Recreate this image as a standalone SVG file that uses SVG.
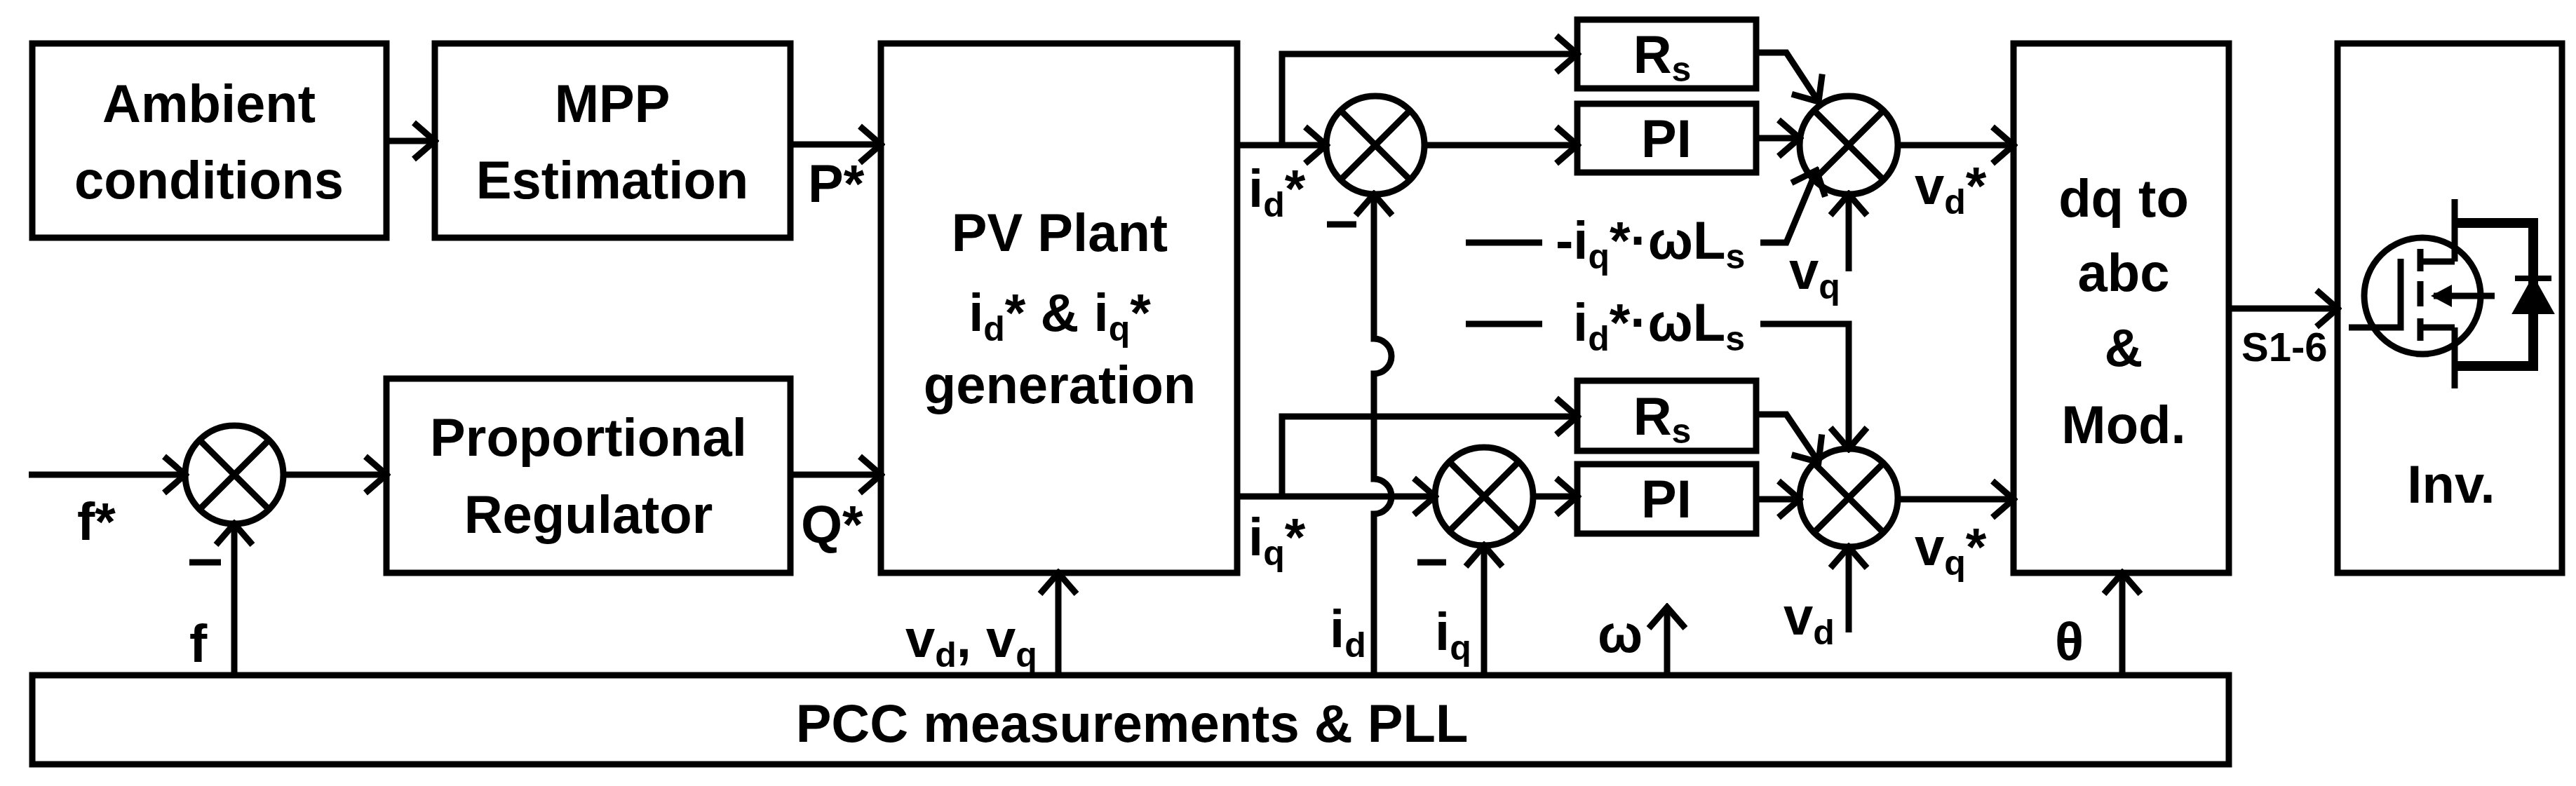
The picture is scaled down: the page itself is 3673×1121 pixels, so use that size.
<svg xmlns="http://www.w3.org/2000/svg" width="3673" height="1121" viewBox="0 0 3673 1121">
<style>
.b{fill:none;stroke:#000;stroke-width:9}
.l{fill:none;stroke:#000;stroke-width:9;marker-end:url(#a)}
text{font-family:"Liberation Sans",Arial,sans-serif;font-weight:bold;font-size:76px;fill:#000}
.c{text-anchor:middle}
.s{font-size:50px}
</style>
<defs>
<marker id="a" markerUnits="userSpaceOnUse" markerWidth="40" markerHeight="60" refX="34" refY="30" orient="auto" viewBox="0 0 40 60">
<path d="M4,4 L34,30 L4,56" fill="none" stroke="#000" stroke-width="9"/>
</marker>
</defs>
<rect width="3673" height="1121" fill="#fff"/>
<g id="ambient"><rect class="b" x="46" y="62" width="505" height="277"/><text class="c" x="298" y="174">Ambient</text><text class="c" x="298" y="283">conditions</text></g>
<g id="mpp"><rect class="b" x="620" y="62" width="507" height="277"/><text class="c" x="873" y="174">MPP</text><text class="c" x="873" y="283">Estimation</text></g>
<g id="prop"><rect class="b" x="551" y="540" width="576" height="277"/><text class="c" x="839" y="650">Proportional</text><text class="c" x="839" y="760">Regulator</text></g>
<g id="pv"><rect class="b" x="1256" y="62" width="508" height="755"/><text class="c" x="1511" y="358">PV Plant</text><text class="c" x="1511" y="472">i<tspan class="s" dy="14">d</tspan><tspan dy="-14">* &amp; i</tspan><tspan class="s" dy="14">q</tspan><tspan dy="-14">*</tspan></text><text class="c" x="1511" y="575">generation</text></g>
<g id="sumf"><circle class="b" cx="334" cy="677" r="70"/><path class="b" d="M284,627 L384,727 M384,627 L284,727"/></g>
<g id="sum1"><circle class="b" cx="1961" cy="207" r="70"/><path class="b" d="M1911,157 L2011,257 M2011,157 L1911,257"/></g>
<g id="sum2"><circle class="b" cx="2116" cy="708" r="70"/><path class="b" d="M2066,658 L2166,758 M2166,658 L2066,758"/></g>
<g id="sum3"><circle class="b" cx="2636" cy="207" r="70"/><path class="b" d="M2586,157 L2686,257 M2686,157 L2586,257"/></g>
<g id="sum4"><circle class="b" cx="2636" cy="710" r="70"/><path class="b" d="M2586,660 L2686,760 M2686,660 L2586,760"/></g>
<g id="rs1"><rect class="b" x="2249" y="28" width="255" height="98"/><text class="c" x="2370" y="104">R<tspan class="s" dy="12">s</tspan></text></g>
<g id="pi1"><rect class="b" x="2249" y="148" width="255" height="98"/><text class="c" x="2376" y="224">PI</text></g>
<g id="rs2"><rect class="b" x="2249" y="543" width="255" height="100"/><text class="c" x="2370" y="620">R<tspan class="s" dy="12">s</tspan></text></g>
<g id="pi2"><rect class="b" x="2249" y="662" width="255" height="99"/><text class="c" x="2376" y="738">PI</text></g>
<g id="dq"><rect class="b" x="2871" y="62" width="307" height="755"/><text class="c" x="3028" y="309">dq to</text><text class="c" x="3028" y="415">abc</text><text class="c" x="3028" y="522">&amp;</text><text class="c" x="3028" y="632">Mod.</text></g>
<g id="inv"><rect class="b" x="3333" y="62" width="320" height="755"/><text class="c" x="3495" y="717">Inv.</text>
<circle class="b" cx="3454" cy="422" r="83"/>
<path class="b" d="M3349,467 H3423 V369 M3451,355 V387 M3451,401 V437 M3451,454 V486 M3451,373 H3500 M3451,467 H3500 M3500,284 V373 M3500,467 V554 M3557,422 H3470"/>
<path d="M3466,422 L3496,406 L3496,438 Z" fill="#000"/>
<path d="M3500,318 H3612 V522 H3500" fill="none" stroke="#000" stroke-width="14"/>
<path d="M3612,401 L3588,444 L3636,444 Z M3586,397 H3638" fill="#000" stroke="#000" stroke-width="8"/>
</g>
<g id="pcc"><rect class="b" x="46" y="963" width="3132" height="127"/><text class="c" x="1614" y="1058">PCC measurements &amp; PLL</text></g>
<g id="connectors">
<path class="l" d="M551,201 H620"/>
<path class="l" d="M1127,206 H1256"/>
<path class="l" d="M1127,677 H1256"/>
<path class="l" d="M41,677 H264"/>
<path class="l" d="M404,677 H551"/>
<path class="l" d="M334,963 V747"/>
<path class="l" d="M1509,963 V817"/>
<path class="l" d="M1764,207 H1891"/>
<path class="l" d="M1828,207 V77 H2249"/>
<path class="l" d="M2031,207 H2249"/>
<path class="l" d="M1959,963 V733 A25,25 0 0 0 1959,683 V533 A25,25 0 0 0 1959,483 V277"/>
<path class="l" d="M1764,708 H2046"/>
<path class="l" d="M1828,708 V594 H2249"/>
<path class="l" d="M2116,963 V778"/>
<path class="l" d="M2186,708 H2249"/>
<path class="l" d="M2377,963 V866"/>
<path class="l" d="M2504,75 H2547 L2593,145"/>
<path class="l" d="M2504,197 H2566"/>
<path class="l" d="M2510,346 H2547 L2590,243"/>
<path class="b" d="M2090,346 H2199 M2090,462 H2199"/>
<path class="l" d="M2636,387 V277"/>
<path class="l" d="M2706,207 H2871"/>
<path class="l" d="M2510,462 H2636 V640"/>
<path class="l" d="M2504,591 H2547 L2593,659"/>
<path class="l" d="M2504,712 H2566"/>
<path class="l" d="M2636,902 V780"/>
<path class="l" d="M2706,712 H2871"/>
<path class="l" d="M3026,963 V817"/>
<path class="l" d="M3178,440 H3333"/>
</g>
<g id="labels">
<text x="1152" y="288">P*</text>
<text x="1142" y="774">Q*</text>
<text x="110" y="770">f*</text>
<text x="270" y="944">f</text>
<path class="b" d="M270,802 H315 M1892,320 H1934 M2021,802 H2062"/>
<text x="1780" y="295">i<tspan class="s" dy="14">d</tspan><tspan dy="-14">*</tspan></text>
<text x="1780" y="792">i<tspan class="s" dy="14">q</tspan><tspan dy="-14">*</tspan></text>
<text x="1291" y="937">v<tspan class="s" dy="14">d</tspan><tspan dy="-14">, v</tspan><tspan class="s" dy="14">q</tspan></text>
<text x="1896" y="923">i<tspan class="s" dy="14">d</tspan></text>
<text x="2046" y="927">i<tspan class="s" dy="14">q</tspan></text>
<text x="2278" y="930">ω</text>
<text x="2218" y="369">-i<tspan class="s" dy="14">q</tspan><tspan dy="-14">*·ωL</tspan><tspan class="s" dy="14">s</tspan></text>
<text x="2243" y="486">i<tspan class="s" dy="14">d</tspan><tspan dy="-14">*·ωL</tspan><tspan class="s" dy="14">s</tspan></text>
<text x="2551" y="412">v<tspan class="s" dy="14">q</tspan></text>
<text x="2543" y="905">v<tspan class="s" dy="14">d</tspan></text>
<text x="2730" y="291">v<tspan class="s" dy="14">d</tspan><tspan dy="-14">*</tspan></text>
<text x="2730" y="806">v<tspan class="s" dy="14">q</tspan><tspan dy="-14">*</tspan></text>
<text x="2930" y="941">θ</text>
<text x="3196" y="515" style="font-size:58px">S1-6</text>
</g>
</svg>
